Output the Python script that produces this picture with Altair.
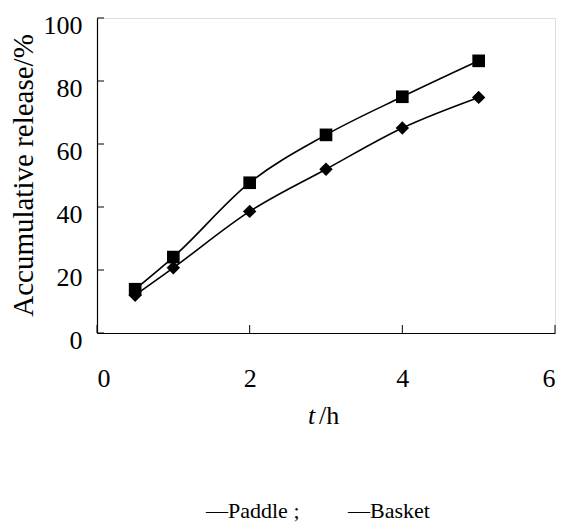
import altair as alt
import pandas as pd

time_h = [0.5, 1, 2, 3, 4, 5]
basket = [13.9, 24.1, 47.7, 62.9, 75.0, 86.4]
paddle = [12.0, 20.7, 38.6, 52.0, 65.1, 74.8]
x_ticks = [0, 2, 4, 6]
y_ticks = [0, 20, 40, 60, 80, 100]

FONT = "Liberation Serif"
W, H = 458, 315

df = pd.DataFrame(
    {"t": time_h * 2,
     "val": basket + paddle,
     "series": ["Basket"] * len(time_h) + ["Paddle"] * len(time_h)}
)

xs = alt.Scale(domain=[0, 6], nice=False)
ys = alt.Scale(domain=[0, 100], nice=False)

common = dict(grid=False, ticks=False, tickSize=0, format="d",
              labelFont=FONT, labelFontSize=26, labelColor="black",
              domainColor="black", domainWidth=1.2)

x_axis = alt.Axis(values=x_ticks, title=None, labelPadding=32, **common)
y_axis = alt.Axis(values=y_ticks, title="Accumulative release/%",
                  labelPadding=15, labelOffset=7,
                  titleFont=FONT, titleFontSize=29, titleFontWeight="normal",
                  titleColor="black", titleX=-65, titleY=157,
                  titleBaseline="alphabetic", titleAlign="center", titleAngle=270,
                  **common)

lines = alt.Chart(df).mark_line(color="black", strokeWidth=1.6, interpolate="monotone").encode(
    x=alt.X("t:Q", scale=xs, axis=x_axis),
    y=alt.Y("val:Q", scale=ys, axis=y_axis),
    detail="series:N",
)

pts_b = alt.Chart(df[df.series == "Basket"]).mark_point(
    shape="square", filled=True, color="black", size=160, opacity=1
).encode(x=alt.X("t:Q", scale=xs, axis=x_axis), y=alt.Y("val:Q", scale=ys, axis=y_axis))

pts_p = alt.Chart(df[df.series == "Paddle"]).mark_point(
    shape="diamond", filled=True, color="black", size=180, opacity=1
).encode(x=alt.X("t:Q", scale=xs, axis=x_axis), y=alt.Y("val:Q", scale=ys, axis=y_axis))

xt = alt.Chart(pd.DataFrame({"v": x_ticks})).mark_rule(color="black", strokeWidth=1).encode(
    x=alt.X("v:Q", scale=xs, axis=x_axis), y=alt.value(H), y2=alt.value(H - 8)
)
yt = alt.Chart(pd.DataFrame({"v": y_ticks})).mark_rule(color="black", strokeWidth=1).encode(
    y=alt.Y("v:Q", scale=ys, axis=y_axis), x=alt.value(0), x2=alt.value(7)
)

def txt(s, x, y, size, style="normal", align="left"):
    return alt.Chart(pd.DataFrame({"s": [s]})).mark_text(
        font=FONT, fontSize=size, fontStyle=style, color="black",
        align=align, baseline="alphabetic"
    ).encode(text="s:N", x=alt.value(x), y=alt.value(y))

t_it = txt("t", 211, 406, 26, style="italic")
t_h = txt("/h", 222, 406, 26)
leg1 = txt("\u2014Paddle ;", 109, 500, 22)
leg2 = txt("\u2014Basket", 251, 500, 22)

chart = alt.layer(lines, pts_b, pts_p, xt, yt, t_it, t_h, leg1, leg2).properties(
    width=W, height=H,
    autosize=alt.AutoSizeParams(type="none"),
    padding={"left": 97, "top": 18, "right": 8, "bottom": 189},
).configure_view(stroke=None).configure(
    background="white",
    style={"guide-label": {"font": FONT, "fontSize": 26}},
).configure_axis(
    labelFont=FONT, labelFontSize=26, labelColor="black",
    titleFont=FONT, titleFontSize=29, titleFontWeight="normal", titleColor="black",
)

chart.save("out.html", embed_options={"renderer": "svg", "actions": False})
